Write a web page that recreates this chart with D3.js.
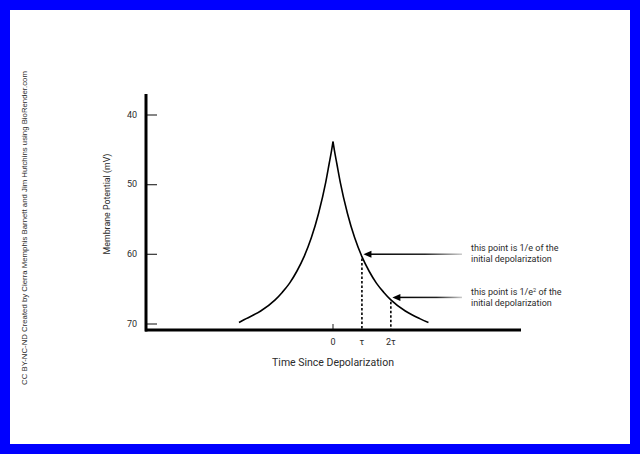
<!DOCTYPE html>
<html><head><meta charset="utf-8">
<script src="https://cdn.jsdelivr.net/npm/d3@7"></script>
<style>
html,body{margin:0;padding:0;background:#fff;}
svg{display:block;}
text{font-family:Roboto,"Noto Sans",sans-serif;fill:#2b2b2b;}
</style></head>
<body>
<svg id="chart" width="640" height="454"></svg>
<script>
// ---- data ----
const yTickValues = [40, 50, 60, 70];
const xTickValues = [0, 1, 2];
const xTickLabels = ["0", "τ", "2τ"];
const leftTime = [-3.25, -3, -2.5, -2, -1.75, -1.5, -1.25, -1, -0.75, -0.5, -0.25, -0.13, -0.05, 0];
const leftPotential = [69.85, 69.3, 68.2, 66.6, 65.5, 64.2, 62.5, 60.4, 57.7, 54.2, 49.7, 47.0, 45.2, 43.9];
const rightTime = [0, 0.05, 0.13, 0.25, 0.5, 0.75, 1, 1.25, 1.5, 1.75, 2, 2.5, 3, 3.3];
const rightPotential = [43.9, 45.2, 47.0, 49.7, 54.2, 57.7, 60.4, 62.5, 64.2, 65.5, 66.6, 68.2, 69.3, 69.85];
const markerTime = [1, 2];
const markerPotential = [60.4, 66.6];
const annotationLines = [
  ["this point is 1/e of the", "initial depolarization"],
  ["this point is 1/e", "2", " of the", "initial depolarization"]
];
const credit = "CC BY-NC-ND Created by Cierra Memphis Barnett and Jim Hutchins using BioRender.com";

const svg = d3.select("#chart");

// blue frame
svg.append("rect").attr("x", 0).attr("y", 0).attr("width", 640).attr("height", 454).attr("fill", "#0000ff");
svg.append("rect").attr("x", 10).attr("y", 10).attr("width", 620).attr("height", 434).attr("fill", "#fff");

const x = d3.scaleLinear().domain([-6.5, 6.5]).range([145, 521]);
const y = d3.scaleLinear().domain([40, 70]).range([114.5, 323.5]);
const axisY = 330, axisX = 146;

// y ticks (pointing right)
const yAxis = d3.axisRight(y).tickValues(yTickValues).tickSize(11).tickFormat("");
const gy = svg.append("g").attr("transform", `translate(${axisX},0)`).call(yAxis);
gy.select(".domain").remove();
gy.selectAll(".tick line").attr("stroke", "#444").attr("stroke-width", 1.3);
svg.selectAll(".ylab").data(yTickValues).enter().append("text")
  .attr("x", 137).attr("y", d => y(d) + 3.3).attr("text-anchor", "end")
  .attr("font-size", 9).text(d => d);

// x tick at 0
svg.append("line").attr("x1", x(0)).attr("x2", x(0)).attr("y1", axisY - 6).attr("y2", axisY)
  .attr("stroke", "#444").attr("stroke-width", 1.2);
svg.selectAll(".xlab").data(xTickValues).enter().append("text")
  .attr("x", (d) => x(d)).attr("y", 345).attr("text-anchor", "middle")
  .attr("font-size", 9).text((d, i) => xTickLabels[i]);

// axes lines
svg.append("line").attr("x1", axisX).attr("x2", axisX).attr("y1", 94).attr("y2", axisY + 1.5)
  .attr("stroke", "#000").attr("stroke-width", 3);
svg.append("line").attr("x1", 145).attr("x2", 521).attr("y1", axisY).attr("y2", axisY)
  .attr("stroke", "#000").attr("stroke-width", 3);

// titles
svg.append("text").attr("x", x(0)).attr("y", 366).attr("text-anchor", "middle")
  .attr("font-size", 10.5).text("Time Since Depolarization");
svg.append("text").attr("transform", "translate(110,204) rotate(-90)").attr("text-anchor", "middle")
  .attr("font-size", 8.8).text("Membrane Potential (mV)");
svg.append("text").attr("transform", "translate(27,228) rotate(-90)").attr("text-anchor", "middle")
  .style("font-family", "'Liberation Sans',Arial,sans-serif").attr("font-size", 7.8).attr("fill", "#222")
  .text(credit);

// curve
const line = d3.line().x(d => x(d[0])).y(d => y(d[1])).curve(d3.curveMonotoneX);
[[leftTime, leftPotential], [rightTime, rightPotential]].forEach(([t, v]) => {
  svg.append("path").datum(t.map((d, i) => [d, v[i]])).attr("d", line)
    .attr("fill", "none").attr("stroke", "#000").attr("stroke-width", 1.6);
});

// dotted markers
markerTime.forEach((t, i) => {
  svg.append("line").attr("x1", x(t)).attr("x2", x(t)).attr("y1", y(markerPotential[i]) + 2).attr("y2", axisY + 1)
    .attr("stroke", "#000").attr("stroke-width", 1.6).attr("stroke-dasharray", "2.5,2");
});

// arrows with fading gradient
const defs = svg.append("defs");
const grad = defs.append("linearGradient").attr("id", "fade").attr("x1", "0").attr("x2", "1").attr("y1", "0").attr("y2", "0");
grad.append("stop").attr("offset", "0").attr("stop-color", "#000");
grad.append("stop").attr("offset", "0.6").attr("stop-color", "#222");
grad.append("stop").attr("offset", "1").attr("stop-color", "#ccc");
markerTime.forEach((t, i) => {
  const tipX = x(t) + 1.5, ty = y(markerPotential[i]) - 2.4;
  const endX = 462;
  svg.append("rect").attr("x", tipX + 6).attr("y", ty - 0.75).attr("width", endX - tipX - 6).attr("height", 1.5)
    .attr("fill", "url(#fade)");
  svg.append("path").attr("d", `M${tipX},${ty} L${tipX + 8},${ty - 3.5} L${tipX + 8},${ty + 3.5} Z`).attr("fill", "#000");
});

// annotation texts
const ann1 = svg.append("text").attr("font-size", 9);
ann1.append("tspan").attr("x", 471).attr("y", 251).text(annotationLines[0][0]);
ann1.append("tspan").attr("x", 471).attr("y", 262).text(annotationLines[0][1]);
const ann2 = svg.append("text").attr("font-size", 9);
ann2.append("tspan").attr("x", 471).attr("y", 295).text(annotationLines[1][0]);
ann2.append("tspan").attr("dy", -3.5).attr("font-size", 5.5).text(annotationLines[1][1]);
ann2.append("tspan").attr("dy", 3.5).text(annotationLines[1][2]);
ann2.append("tspan").attr("x", 471).attr("y", 306).text(annotationLines[1][3]);
</script>
</body></html>
